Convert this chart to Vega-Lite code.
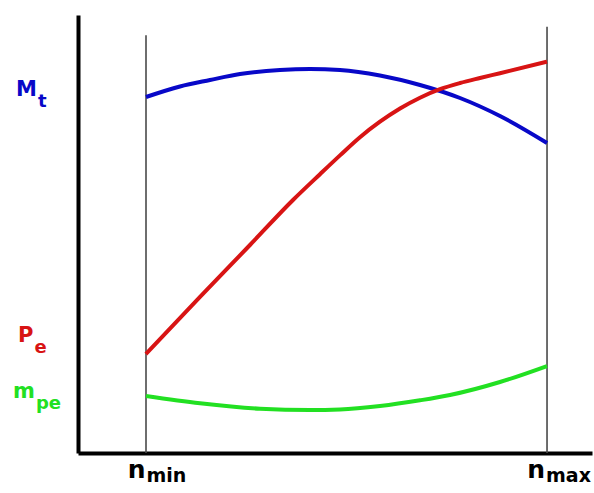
{
  "$schema": "https://vega.github.io/schema/vega-lite/v6.json",
  "width": 514,
  "height": 438,
  "autosize": {"type": "none"},
  "padding": {"left": 78, "top": 15, "right": 2, "bottom": 40},
  "background": "white",
  "config": {"view": {"stroke": null}},
  "datasets": {
    "curves": [
      {"series": "Mt", "n": 13.23, "v": 81.28},
      {"series": "Mt", "n": 19.84, "v": 83.68},
      {"series": "Mt", "n": 25.68, "v": 85.16},
      {"series": "Mt", "n": 31.52, "v": 86.53},
      {"series": "Mt", "n": 39.30, "v": 87.44},
      {"series": "Mt", "n": 45.14, "v": 87.67},
      {"series": "Mt", "n": 50.97, "v": 87.44},
      {"series": "Mt", "n": 58.75, "v": 86.19},
      {"series": "Mt", "n": 66.54, "v": 84.02},
      {"series": "Mt", "n": 74.32, "v": 81.05},
      {"series": "Mt", "n": 82.10, "v": 76.94},
      {"series": "Mt", "n": 91.25, "v": 70.78},
      {"series": "Pe", "n": 13.23, "v": 22.60},
      {"series": "Pe", "n": 23.74, "v": 35.62},
      {"series": "Pe", "n": 33.46, "v": 47.49},
      {"series": "Pe", "n": 41.83, "v": 57.76},
      {"series": "Pe", "n": 47.08, "v": 63.65},
      {"series": "Pe", "n": 50.97, "v": 67.95},
      {"series": "Pe", "n": 54.86, "v": 72.10},
      {"series": "Pe", "n": 58.75, "v": 75.64},
      {"series": "Pe", "n": 62.65, "v": 78.65},
      {"series": "Pe", "n": 66.54, "v": 81.12},
      {"series": "Pe", "n": 70.43, "v": 83.06},
      {"series": "Pe", "n": 74.32, "v": 84.47},
      {"series": "Pe", "n": 78.21, "v": 85.62},
      {"series": "Pe", "n": 82.10, "v": 86.71},
      {"series": "Pe", "n": 91.25, "v": 89.34},
      {"series": "mpe", "n": 13.23, "v": 13.01},
      {"series": "mpe", "n": 23.74, "v": 11.35},
      {"series": "mpe", "n": 35.41, "v": 10.11},
      {"series": "mpe", "n": 45.14, "v": 9.82},
      {"series": "mpe", "n": 50.97, "v": 9.95},
      {"series": "mpe", "n": 58.75, "v": 10.73},
      {"series": "mpe", "n": 66.54, "v": 12.03},
      {"series": "mpe", "n": 72.37, "v": 13.24},
      {"series": "mpe", "n": 82.10, "v": 16.21},
      {"series": "mpe", "n": 91.25, "v": 19.86}
    ],
    "verticals": [
      {"id": "nmin", "n": 13.23, "v": 0},
      {"id": "nmin", "n": 13.23, "v": 95.4},
      {"id": "nmax", "n": 91.25, "v": 0},
      {"id": "nmax", "n": 91.25, "v": 97.3}
    ],
    "ylabels": [
      {"series": "Mt", "main": "M", "sub": "t", "n": -7.98, "v": 81.51},
      {"series": "Pe", "main": "P", "sub": "e", "n": -8.66, "v": 25.34},
      {"series": "mpe", "main": "m", "sub": "pe", "n": -8.37, "v": 12.56}
    ],
    "xlabels": [
      {"main": "n", "sub": "min", "n": 13.13, "v": -5.71},
      {"main": "n", "sub": "max", "n": 90.86, "v": -5.71}
    ]
  },
  "layer": [
    {
      "data": {"name": "verticals"},
      "mark": {"type": "line", "color": "#4a4a4a", "strokeWidth": 1.6},
      "encoding": {
        "x": {"field": "n", "type": "quantitative",
              "scale": {"domain": [0, 100], "nice": false, "zero": false},
              "axis": {"domain": true, "domainWidth": 4, "domainColor": "black", "ticks": false, "labels": false, "grid": false, "title": null}},
        "y": {"field": "v", "type": "quantitative",
              "scale": {"domain": [0, 100], "nice": false, "zero": false},
              "axis": {"domain": true, "domainWidth": 4, "domainColor": "black", "ticks": false, "labels": false, "grid": false, "title": null}},
        "detail": {"field": "id", "type": "nominal"}
      }
    },
    {
      "data": {"name": "curves"},
      "mark": {"type": "line", "interpolate": "monotone", "strokeWidth": 4},
      "encoding": {
        "x": {"field": "n", "type": "quantitative"},
        "y": {"field": "v", "type": "quantitative"},
        "color": {"field": "series", "type": "nominal",
                  "scale": {"domain": ["Mt", "Pe", "mpe"], "range": ["#0808c8", "#d81414", "#22e022"]},
                  "legend": null}
      }
    },
    {
      "data": {"name": "ylabels"},
      "mark": {"type": "text", "align": "right", "baseline": "alphabetic", "font": "DejaVu Sans", "fontWeight": "bold", "fontSize": 21},
      "encoding": {
        "x": {"field": "n", "type": "quantitative"},
        "y": {"field": "v", "type": "quantitative"},
        "text": {"field": "main", "type": "nominal"},
        "color": {"field": "series", "type": "nominal",
                  "scale": {"domain": ["Mt", "Pe", "mpe"], "range": ["#1a1aaa", "#c41030", "#33cc33"]},
                  "legend": null}
      }
    },
    {
      "data": {"name": "ylabels"},
      "mark": {"type": "text", "align": "left", "baseline": "alphabetic", "font": "DejaVu Sans", "fontWeight": "bold", "fontSize": 18, "dx": 1, "dy": 11},
      "encoding": {
        "x": {"field": "n", "type": "quantitative"},
        "y": {"field": "v", "type": "quantitative"},
        "text": {"field": "sub", "type": "nominal"},
        "color": {"field": "series", "type": "nominal",
                  "scale": {"domain": ["Mt", "Pe", "mpe"], "range": ["#1a1aaa", "#c41030", "#33cc33"]},
                  "legend": null}
      }
    },
    {
      "data": {"name": "xlabels"},
      "mark": {"type": "text", "align": "right", "baseline": "alphabetic", "font": "DejaVu Sans", "fontWeight": "bold", "fontSize": 25, "color": "black"},
      "encoding": {
        "x": {"field": "n", "type": "quantitative"},
        "y": {"field": "v", "type": "quantitative"},
        "text": {"field": "main", "type": "nominal"}
      }
    },
    {
      "data": {"name": "xlabels"},
      "mark": {"type": "text", "align": "left", "baseline": "alphabetic", "font": "DejaVu Sans", "fontWeight": "bold", "fontSize": 19, "dx": 1, "dy": 4, "color": "black"},
      "encoding": {
        "x": {"field": "n", "type": "quantitative"},
        "y": {"field": "v", "type": "quantitative"},
        "text": {"field": "sub", "type": "nominal"}
      }
    }
  ]
}
